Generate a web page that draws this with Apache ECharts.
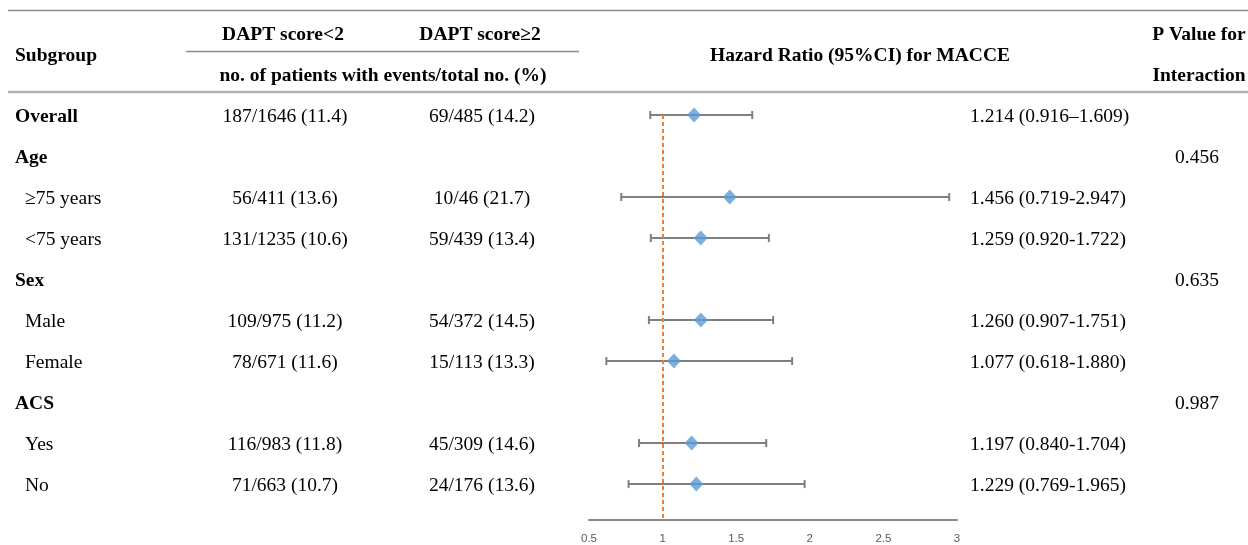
<!DOCTYPE html>
<html>
<head>
<meta charset="utf-8">
<script src="https://cdn.jsdelivr.net/npm/echarts@6/dist/echarts.min.js"></script>
<style>
html,body{margin:0;padding:0;background:#fff;}
#chart{width:1248px;height:545px;}
</style>
</head>
<body>
<div id="chart"></div>
<script>
// ---- data ----
const subgroups = ['Overall','Age','≥75 years','<75 years','Sex','Male','Female','ACS','Yes','No'];
const levels    = [0,0,1,1,0,1,1,0,1,1];
const daptLow   = ['187/1646 (11.4)','','56/411 (13.6)','131/1235 (10.6)','','109/975 (11.2)','78/671 (11.6)','','116/983 (11.8)','71/663 (10.7)'];
const daptHigh  = ['69/485 (14.2)','','10/46 (21.7)','59/439 (13.4)','','54/372 (14.5)','15/113 (13.3)','','45/309 (14.6)','24/176 (13.6)'];
const hr        = [1.214,null,1.456,1.259,null,1.260,1.077,null,1.197,1.229];
const ciLow     = [0.916,null,0.719,0.920,null,0.907,0.618,null,0.840,0.769];
const ciHigh    = [1.609,null,2.947,1.722,null,1.751,1.880,null,1.704,1.965];
const hrText    = ['1.214 (0.916–1.609)','','1.456 (0.719-2.947)','1.259 (0.920-1.722)','','1.260 (0.907-1.751)','1.077 (0.618-1.880)','','1.197 (0.840-1.704)','1.229 (0.769-1.965)'];
const pInter    = ['','0.456','','','0.635','','','0.987','',''];
const xTicks    = [0.5,1,1.5,2,2.5,3];

const SERIF = '"Liberation Serif","Times New Roman",serif';
const FS = 19.5;
const DY = 1.5;

const chart = echarts.init(document.getElementById('chart'), null, {renderer:'canvas'});

const ciData = [];
const ptData = [];
for (let i = 0; i < subgroups.length; i++) {
  if (hr[i] != null) {
    ciData.push([ciLow[i], ciHigh[i], i]);
    ptData.push([hr[i], i]);
  }
}

chart.setOption({
  animation:false,
  grid:{left:589, width:368, top:115, bottom:23.5, containLabel:false},
  xAxis:{
    type:'value', min:xTicks[0], max:xTicks[xTicks.length-1], interval:0.5,
    axisLine:{show:true, onZero:false, lineStyle:{color:'#8a8a8a', width:2}},
    axisTick:{show:false},
    splitLine:{show:false},
    axisLabel:{color:'#595959', fontSize:11.5, fontFamily:'"Liberation Sans",Arial,sans-serif', margin:13,
      formatter:v=>String(v)}
  },
  yAxis:{
    type:'value', inverse:true, min:0, max:9.875, show:false
  },
  series:[
    {
      type:'custom',
      renderItem:function(params, api){
        const p1 = api.coord([api.value(0), api.value(2)]);
        const p2 = api.coord([api.value(1), api.value(2)]);
        const c = 4;
        const st = {stroke:'#7f7f7f', lineWidth:2};
        return {type:'group', children:[
          {type:'line', shape:{x1:p1[0], y1:p1[1], x2:p2[0], y2:p2[1]}, style:st},
          {type:'line', shape:{x1:p1[0], y1:p1[1]-c, x2:p1[0], y2:p1[1]+c}, style:st},
          {type:'line', shape:{x1:p2[0], y1:p2[1]-c, x2:p2[0], y2:p2[1]+c}, style:st}
        ]};
      },
      encode:{x:[0,1], y:2},
      data:ciData,
      z:2
    },
    {
      type:'scatter',
      symbol:'diamond',
      symbolSize:[14,15],
      itemStyle:{color:'#5b9bd5'},
      data:ptData,
      z:4,
      markLine:{
        silent:true, symbol:'none',
        label:{show:false},
        lineStyle:{color:'#ed7d31', type:[4,3], width:2},
        data:[{xAxis:1}],
        z:3
      }
    }
  ]
});

// ---- table text & rules ----
const g = [];
function txt(x, y, s, opts){
  opts = opts || {};
  g.push({type:'text', x:x, y:y + DY, silent:true, style:{
    text:s, fill:'#000', fontFamily:SERIF, fontSize:FS,
    fontWeight:opts.bold?'bold':'normal',
    align:opts.align||'left', verticalAlign:'middle'
  }});
}
function hline(x1,x2,y,color,w){
  g.push({type:'line', silent:true, shape:{x1:x1,y1:y,x2:x2,y2:y}, style:{stroke:color, lineWidth:w}});
}
hline(8,1248,10.5,'#8c8c8c',1.5);
hline(186,579,51.5,'#8c8c8c',1.5);
hline(8,1248,92,'#b3b3b3',2.5);

txt(15,54,'Subgroup',{bold:true});
txt(283,33,'DAPT score<2',{bold:true,align:'center'});
txt(480,33,'DAPT score≥2',{bold:true,align:'center'});
txt(383,74,'no. of patients with events/total no. (%)',{bold:true,align:'center'});
txt(860,54,'Hazard Ratio (95%CI) for MACCE',{bold:true,align:'center'});
txt(1199,33,'P Value for',{bold:true,align:'center'});
txt(1199,74,'Interaction',{bold:true,align:'center'});

for (let i = 0; i < subgroups.length; i++) {
  const y = chart.convertToPixel({yAxisIndex:0}, i);
  txt(levels[i] ? 25 : 15, y, subgroups[i], {bold: levels[i]===0});
  if (daptLow[i]) txt(285, y, daptLow[i], {align:'center'});
  if (daptHigh[i]) txt(482, y, daptHigh[i], {align:'center'});
  if (hrText[i]) txt(970, y, hrText[i]);
  if (pInter[i]) txt(1197, y, pInter[i], {align:'center'});
}
chart.setOption({graphic:g});
</script>
</body>
</html>
